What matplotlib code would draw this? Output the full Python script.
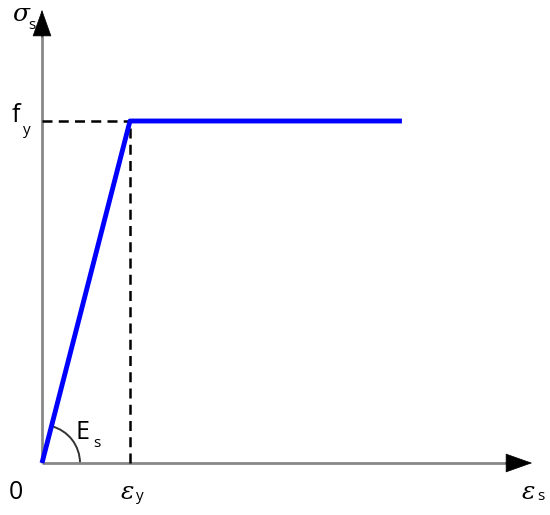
import numpy as np
import matplotlib.pyplot as plt
from matplotlib.patches import Arc

# Idealised elastic-perfectly-plastic steel curve (normalised units)
strain = [0.0, 1.0, 4.09]     # 0, eps_y, end of plateau
stress = [0.0, 1.0, 1.0]      # 0, f_y, f_y
eps_y = 1.0
f_y = 1.0
x_axis_end = 5.57
y_axis_end = 1.325

fig = plt.figure(figsize=(5.5, 5.15), dpi=100)
ax = fig.add_axes([0, 0, 1, 1])
ax.set_xlim(-42 / 88, (550 - 42) / 88)
ax.set_ylim(-(515 - 463) / 342, 463 / 342)
ax.axis("off")

# axes: gray shafts with black arrow heads
ax.plot([0, x_axis_end - 0.15], [0, 0], color="#888888", lw=2, solid_capstyle="butt")
ax.plot([0, 0], [0, y_axis_end - 0.04], color="#888888", lw=2, solid_capstyle="butt")
head = dict(arrowstyle="-|>,head_length=0.9,head_width=0.32", mutation_scale=20,
            fc="black", ec="black", lw=0.5, shrinkA=0, shrinkB=0)
ax.annotate("", xy=(x_axis_end, 0), xytext=(x_axis_end - 0.3, 0), arrowprops=head)
ax.annotate("", xy=(0, y_axis_end), xytext=(0, y_axis_end - 0.08), arrowprops=head)

# dashed guide lines
ax.plot([0, eps_y], [f_y, f_y], color="black", lw=1.8, ls=(0, (4, 2.5)))
ax.plot([eps_y, eps_y], [0, f_y], color="black", lw=1.8, ls=(0, (4, 2.5)))

# stress-strain curve
ax.plot(strain, stress, color="#0000ff", lw=3.5, solid_capstyle="butt", zorder=3)

# angle arc for E_s (circle in pixels, angle given in data space)
ang = np.degrees(np.arctan2(f_y, eps_y))
arc = Arc((0, 0), 2 * 38 / 88, 2 * 38 / 342, theta1=0, theta2=ang,
          color="#333333", lw=1.4)
ax.add_patch(arc)

fs = 18
sub = 11
lab = dict(family="Open Sans", color="black")
ax.text(0.38, 0.088, "E", fontsize=fs, ha="left", va="center", **lab)
ax.text(0.58, 0.058, "s", fontsize=sub, ha="left", va="center", **lab)

ax.text(-0.30, 1.015, "f", fontsize=fs, ha="center", va="center", **lab)
ax.text(-0.175, 0.972, "y", fontsize=sub, ha="center", va="center", **lab)

ax.text(-0.30, -0.085, "0", fontsize=fs, ha="center", va="center", **lab)

serif = dict(family="DejaVu Serif", style="italic", color="black")
ax.text(-0.245, 1.31, "σ", fontsize=fs, ha="center", va="center", **serif)
ax.text(-0.11, 1.28, "s", fontsize=sub, ha="center", va="center", **lab)

ax.text(0.97, -0.085, "ε", fontsize=fs, ha="center", va="center", **serif)
ax.text(1.11, -0.098, "y", fontsize=sub, ha="center", va="center", **lab)

ax.text(5.53, -0.085, "ε", fontsize=fs, ha="center", va="center", **serif)
ax.text(5.67, -0.098, "s", fontsize=sub, ha="center", va="center", **lab)

fig.savefig("out.png", dpi=100)
